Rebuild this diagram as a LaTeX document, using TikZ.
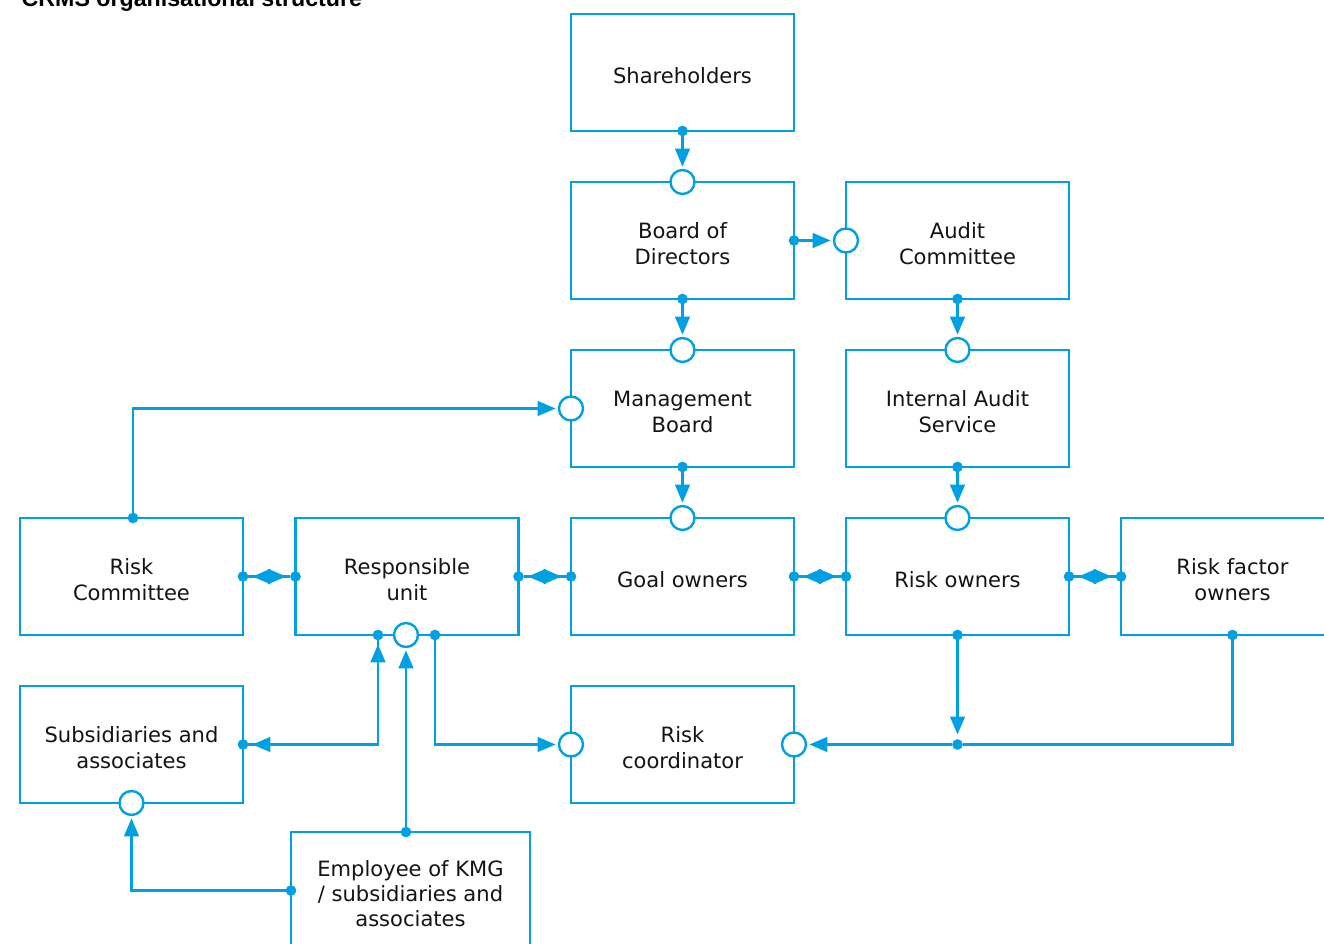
\documentclass[tikz,border=0pt]{standalone}
\usepackage{fontspec}
\setmainfont{DejaVu Sans}
\newfontfamily\titlefont{Liberation Sans}
\usetikzlibrary{arrows.meta,calc}
\definecolor{kc}{RGB}{0,160,227}
\definecolor{txt}{RGB}{20,20,20}
\newcommand{\lowered}[1]{\raisebox{-4.5pt}[\height][\depth]{\begin{tabular}{@{}c@{}}#1\end{tabular}}}
\tikzset{
  box/.style={draw=kc, line width=1.8pt, minimum width=167.25pt, minimum height=87.75pt,
    align=center, inner sep=0pt, outer sep=0pt, text=txt,
    font=\fontsize{15.8pt}{18.8pt}\selectfont},
  dot/.style={circle, fill=kc, minimum size=8pt, inner sep=0pt, outer sep=0pt},
  ring/.style={circle, draw=kc, fill=white, line width=1.8pt, minimum size=18pt, inner sep=0pt, outer sep=0pt},
  conn/.style={draw=kc, line width=1.8pt},
  tipa/.tip={Triangle[length=13.5pt,width=11pt]},
  arr/.style={conn, -tipa, shorten >=2.5pt},
  arrdot/.style={conn, -tipa, shorten >=3.5pt},
  twoway/.style={conn, tipa-tipa, shorten <=3pt, shorten >=3pt},
}
\begin{document}
\begin{tikzpicture}[x=0.75pt,y=-0.75pt]
\useasboundingbox (0,0) rectangle (1324,944);
\clip (0,0) rectangle (1324,944);

\node[anchor=base west, font=\titlefont\bfseries\fontsize{17.4pt}{20pt}\selectfont, text=black]
  (title) at (17,7) {CRMS organisational structure};

% boxes
\node[box] (sh)  at (682.5,72.5)  {\lowered{Shareholders}};
\node[box] (bod) at (682.5,240.5) {\lowered{Board of\\Directors}};
\node[box] (ac)  at (957.5,240.5) {\lowered{Audit\\Committee}};
\node[box] (mb)  at (682.5,408.5) {\lowered{Management\\Board}};
\node[box] (ias) at (957.5,408.5) {\lowered{Internal Audit\\Service}};
\node[box] (rc)  at (131.5,576.5) {\lowered{Risk\\Committee}};
\node[box] (ru)  at (407,576.5)   {\lowered{Responsible\\unit}};
\node[box] (go)  at (682.5,576.5) {\lowered{Goal owners}};
\node[box] (ro)  at (957.5,576.5) {\lowered{Risk owners}};
\node[box] (rfo) at (1232.5,576.5) {\lowered{Risk factor\\owners}};
\node[box] (sub) at (131.5,744.5) {\lowered{Subsidiaries and\\associates}};
\node[box] (rco) at (682.5,744.5) {\lowered{Risk\\coordinator}};
\node[box, minimum width=179.25pt] (emp) at (410.5,890.5) {\lowered{Employee of KMG\\/ subsidiaries and\\associates}};

% dots and rings
\node[dot]  (shB)  at (sh.south) {};
\node[ring] (bodT) at (bod.north) {};
\node[dot]  (bodR) at (bod.east) {};
\node[ring] (acL)  at (ac.west) {};
\node[dot]  (bodB) at (bod.south) {};
\node[ring] (mbT)  at (mb.north) {};
\node[dot]  (acB)  at (ac.south) {};
\node[ring] (iasT) at (ias.north) {};
\node[dot]  (mbB)  at (mb.south) {};
\node[ring] (goT)  at (go.north) {};
\node[dot]  (iasB) at (ias.south) {};
\node[ring] (roT)  at (ro.north) {};
\node[ring] (mbL)  at (mb.west) {};
\node[dot]  (rcT)  at ($(rc.north)+(1.5,0)$) {};
\node[dot]  (rcE)  at (rc.east) {};
\node[dot]  (ruW)  at (ru.west) {};
\node[dot]  (ruE)  at (ru.east) {};
\node[dot]  (goW)  at (go.west) {};
\node[dot]  (goE)  at (go.east) {};
\node[dot]  (roW)  at (ro.west) {};
\node[dot]  (roE)  at (ro.east) {};
\node[dot]  (rfoW) at (rfo.west) {};
\node[dot]  (ruB1) at (378,635) {};
\node[ring] (ruBr) at (406,635) {};
\node[dot]  (ruB2) at (435,635) {};
\node[dot]  (subE) at (sub.east) {};
\node[ring] (subB) at (sub.south) {};
\node[ring] (rcoW) at (rco.west) {};
\node[ring] (rcoE) at (rco.east) {};
\node[dot]  (roB)  at (ro.south) {};
\node[dot]  (jn)   at (ro.south |- rco.east) {};
\node[dot]  (rfoB) at (rfo.south) {};
\node[dot]  (empT) at (406,832) {};
\node[dot]  (empW) at (emp.west) {};

% connectors
\draw[arr] (shB) -- (bodT);
\draw[arr] (bodR) -- (acL);
\draw[arr] (bodB) -- (mbT);
\draw[arr] (acB) -- (iasT);
\draw[arr] (mbB) -- (goT);
\draw[arr] (iasB) -- (roT);
\draw[arr] (rcT) |- (mbL);

\draw[conn] (rcE) -- (ruW);  \draw[twoway] (rcE) -- (ruW);
\draw[conn] (ruE) -- (goW);  \draw[twoway] (ruE) -- (goW);
\draw[conn] (goE) -- (roW);  \draw[twoway] (goE) -- (roW);
\draw[conn] (roE) -- (rfoW); \draw[twoway] (roE) -- (rfoW);

\draw[conn] (subE) -| (ruB1);
\draw[twoway] (subE) -| (ruB1);
\draw[arr] (empT) -- (ruBr);
\draw[arr] (ruB2) |- (rcoW);
\draw[arrdot] (roB) -- (jn);
\draw[conn] (rfoB) |- (jn);
\draw[arr] (jn) -- (rcoE);
\draw[arr] (empW) -| (subB);
\end{tikzpicture}
\end{document}
